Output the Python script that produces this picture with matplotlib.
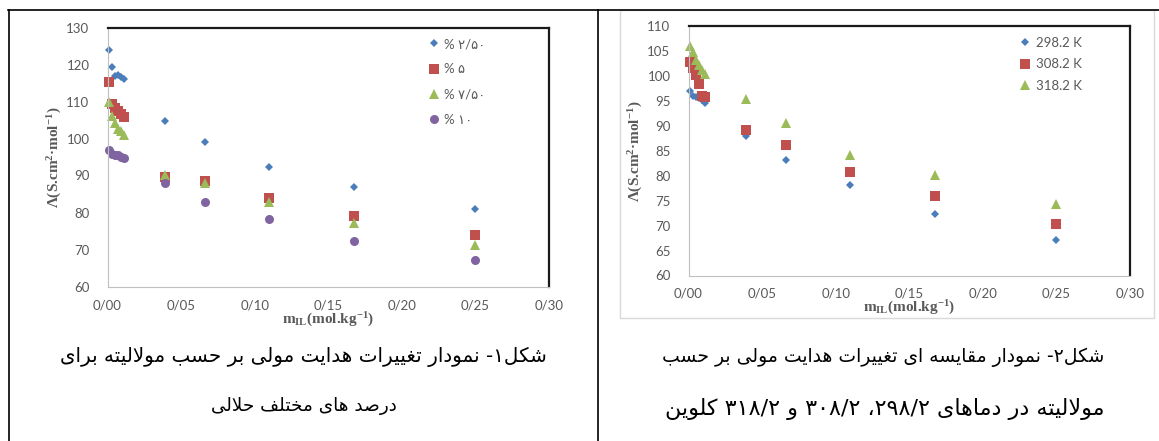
import matplotlib
matplotlib.use("Agg")
import matplotlib.pyplot as plt
from matplotlib.lines import Line2D
from matplotlib.patches import Rectangle

# molality of ionic liquid (mol/kg)
m_il = [0.001, 0.003, 0.005, 0.007, 0.009, 0.011, 0.0394, 0.0663, 0.1095, 0.1673, 0.2498]

# figure 1: different solvent percentages
solvent_labels = ["% ۲/۵۰", "% ۵", "% ۷/۵۰", "% ۱۰"]
lam_2_5 = [123.9, 119.2, 117.0, 117.2, 116.5, 116.0, 104.8, 99.0, 92.2, 86.8, 80.9]
lam_5 = [115.2, 109.2, 108.2, 107.3, 106.5, 105.8, 89.5, 88.5, 84.0, 79.1, 74.0]
lam_7_5 = [109.8, 106.1, 104.1, 102.7, 102.1, 100.9, 90.1, 88.1, 82.9, 77.1, 71.3]
lam_10 = [96.8, 95.8, 95.6, 95.5, 95.1, 94.6, 87.9, 82.9, 78.2, 72.4, 67.1]

# figure 2: different temperatures
temp_labels = ["298.2 K", "308.2 K", "318.2 K"]
lam_298 = [97.0, 96.0, 95.7, 95.6, 95.2, 94.6, 87.9, 83.1, 78.1, 72.4, 67.2]
lam_308 = [102.7, 101.5, 100.2, 98.4, 96.0, 95.8, 89.1, 86.2, 80.7, 75.9, 70.4]
lam_318 = [106.0, 104.7, 103.2, 102.2, 101.2, 100.4, 95.4, 90.6, 84.2, 80.1, 74.3]

x_ticks = [0.0, 0.05, 0.10, 0.15, 0.20, 0.25, 0.30]

caption_1 = ["شکل۱- نمودار تغییرات هدایت مولی بر حسب مولالیته برای",
             "درصد های مختلف حلالی"]
caption_2 = ["شکل۲- نمودار مقایسه ای تغییرات هدایت مولی بر حسب",
             "مولالیته در دماهای ۲۹۸/۲، ۳۰۸/۲ و ۳۱۸/۲ کلوین"]

blue, red, green, purple = "#4a7ebb", "#c0504d", "#9bbb59", "#8064a2"
gray_txt = "#595959"

# --- small persian shaper (matplotlib has no complex text layout) ---
forms = {
    "ا": ("\uFE8D", "\uFE8E", None, None),
    "ب": ("\uFE8F", "\uFE90", "\uFE91", "\uFE92"),
    "ت": ("\uFE95", "\uFE96", "\uFE97", "\uFE98"),
    "ح": ("\uFEA1", "\uFEA2", "\uFEA3", "\uFEA4"),
    "خ": ("\uFEA5", "\uFEA6", "\uFEA7", "\uFEA8"),
    "د": ("\uFEA9", "\uFEAA", None, None),
    "ر": ("\uFEAD", "\uFEAE", None, None),
    "س": ("\uFEB1", "\uFEB2", "\uFEB3", "\uFEB4"),
    "ش": ("\uFEB5", "\uFEB6", "\uFEB7", "\uFEB8"),
    "ص": ("\uFEB9", "\uFEBA", "\uFEBB", "\uFEBC"),
    "غ": ("\uFECD", "\uFECE", "\uFECF", "\uFED0"),
    "ف": ("\uFED1", "\uFED2", "\uFED3", "\uFED4"),
    "ق": ("\uFED5", "\uFED6", "\uFED7", "\uFED8"),
    "ل": ("\uFEDD", "\uFEDE", "\uFEDF", "\uFEE0"),
    "م": ("\uFEE1", "\uFEE2", "\uFEE3", "\uFEE4"),
    "ن": ("\uFEE5", "\uFEE6", "\uFEE7", "\uFEE8"),
    "ه": ("\uFEE9", "\uFEEA", "\uFEEB", "\uFEEC"),
    "و": ("\uFEED", "\uFEEE", None, None),
    "ک": ("\uFB8E", "\uFB8F", "\uFB90", "\uFB91"),
    "ی": ("\uFBFC", "\uFBFD", "\uFBFE", "\uFBFF"),
}
ltr_chars = set("0123456789۰۱۲۳۴۵۶۷۸۹/.")


def shape(text):
    out = []
    i = 0
    while i < len(text):
        c = text[i]
        if c not in forms:
            out.append(c)
            i += 1
            continue
        prev = text[i - 1] if i > 0 else ""
        join_prev = prev in forms and forms[prev][2] is not None
        if c == "ل" and i + 1 < len(text) and text[i + 1] == "ا":
            out.append("\uFEFC" if join_prev else "\uFEFB")
            i += 2
            continue
        nxt = text[i + 1] if i + 1 < len(text) else ""
        join_next = forms[c][2] is not None and nxt in forms
        if join_prev and join_next:
            out.append(forms[c][3])
        elif join_prev:
            out.append(forms[c][1])
        elif join_next:
            out.append(forms[c][2])
        else:
            out.append(forms[c][0])
        i += 1
    # visual order: reverse, but keep number runs left to right
    runs = []
    for ch in "".join(out):
        is_num = ch in ltr_chars
        if runs and runs[-1][0] == is_num:
            runs[-1][1].append(ch)
        else:
            runs.append([is_num, [ch]])
    vis = ""
    for is_num, chs in reversed(runs):
        vis += "".join(chs) if is_num else "".join(reversed(chs))
    return vis


plt.rcParams["mathtext.fontset"] = "custom"
plt.rcParams["mathtext.rm"] = "Liberation Serif:bold"
plt.rcParams["mathtext.it"] = "Liberation Serif:bold"
plt.rcParams["mathtext.bf"] = "Liberation Serif:bold"

fig = plt.figure(figsize=(11.59, 4.41), dpi=100)
W, H = 1159, 441


def px_axes(x0, y0, x1, y1):
    return fig.add_axes([x0 / W, 1 - y1 / H, (x1 - x0) / W, (y1 - y0) / H])


def style_axes(ax, ymin, ymax, ystep):
    ax.set_xlim(0, 0.30)
    ax.set_ylim(ymin, ymax)
    ax.set_xticks(x_ticks)
    ax.set_xticklabels(["{:.2f}".format(t).replace(".", "/") for t in x_ticks])
    ax.set_yticks(range(ymin, ymax + 1, ystep))
    ax.tick_params(length=0, labelsize=9.5, labelcolor=gray_txt, pad=13)
    ax.tick_params(axis="x", pad=9)
    for lab in ax.get_xticklabels() + ax.get_yticklabels():
        lab.set_family("Lato")
    ax.spines["left"].set_color("#bfbfbf")
    ax.spines["bottom"].set_color("#bfbfbf")
    ax.spines["top"].set_color("#1a1a1a")
    ax.spines["right"].set_color("#1a1a1a")
    ax.spines["top"].set_linewidth(1.6)
    ax.spines["right"].set_linewidth(1.6)
    ax.set_ylabel(r"Λ(S.cm$^{2}$·mol$^{-1}$)", family="Liberation Serif",
                  weight="bold", fontsize=11, color=gray_txt)
    ax.set_xlabel(r"m$_{\mathrm{IL}}$(mol.kg$^{-1}$)", family="Liberation Serif",
                  weight="bold", fontsize=11, color=gray_txt)
    ax.yaxis.set_label_coords(-0.12, 0.5)
    ax.xaxis.set_label_coords(0.5, -0.13)
    ax.xaxis.label.set_va("center")
    ax.yaxis.label.set_va("center")


# chart 1
ax1 = px_axes(107.5, 27.5, 549, 286.5)
ax1.plot(m_il, lam_2_5, "D", color=blue, ms=4.3, mew=0, label=solvent_labels[0], clip_on=False)
ax1.plot(m_il, lam_5, "s", color=red, ms=6.5, mew=0, label=solvent_labels[1], clip_on=False)
ax1.plot(m_il, lam_7_5, "^", color=green, ms=7, mew=0, label=solvent_labels[2], clip_on=False)
ax1.plot(m_il, lam_10, "o", color=purple, ms=6.5, mew=0, label=solvent_labels[3], clip_on=False)
style_axes(ax1, 60, 130, 10)
leg1 = ax1.legend(loc="upper left", bbox_to_anchor=(0.70, 1.005), frameon=False,
                  handlelength=0.8, handletextpad=0.4, labelspacing=1.0,
                  prop={"family": ["Lato", "DejaVu Sans"], "size": 9.5})
for t in leg1.get_texts():
    t.set_color(gray_txt)

# chart 2 (has a light chart-area border)
fig.patches.append(Rectangle((619.5 / W, 1 - 318 / H), (1154 - 619.5) / W, 308 / H,
                             transform=fig.transFigure, fill=False,
                             edgecolor="#d9d9d9", lw=1))
ax2 = px_axes(688.5, 26, 1130, 275.5)
ax2.plot(m_il, lam_298, "D", color=blue, ms=4.3, mew=0, label=temp_labels[0], clip_on=False)
ax2.plot(m_il, lam_308, "s", color=red, ms=6.5, mew=0, label=temp_labels[1], clip_on=False)
ax2.plot(m_il, lam_318, "^", color=green, ms=7, mew=0, label=temp_labels[2], clip_on=False)
style_axes(ax2, 60, 110, 5)
leg2 = ax2.legend(loc="upper left", bbox_to_anchor=(0.724, 1.005), frameon=False,
                  handlelength=0.8, handletextpad=0.4, labelspacing=0.72,
                  prop={"family": "Lato", "size": 9.5})
for t in leg2.get_texts():
    t.set_color(gray_txt)

# table lines
fig.add_artist(Line2D([8 / W, 1], [1 - 10 / H] * 2, color="black", lw=1.2))
fig.add_artist(Line2D([8.5 / W] * 2, [0, 1 - 10 / H], color="black", lw=1.2))
fig.add_artist(Line2D([597.5 / W] * 2, [0, 1 - 10 / H], color="black", lw=1.2))

# captions (x centre, y centre, size)
caption_pos = [(303, 357, 14.3), (304, 406, 13.2), (883, 357, 13.5), (885, 409, 16)]
caption_lines = caption_1 + caption_2
for (cx, cy, fs), line in zip(caption_pos, caption_lines):
    fig.text(cx / W, 1 - cy / H, shape(line), ha="center", va="center",
             family="DejaVu Sans", fontsize=fs)

fig.savefig("out.png", dpi=100)
